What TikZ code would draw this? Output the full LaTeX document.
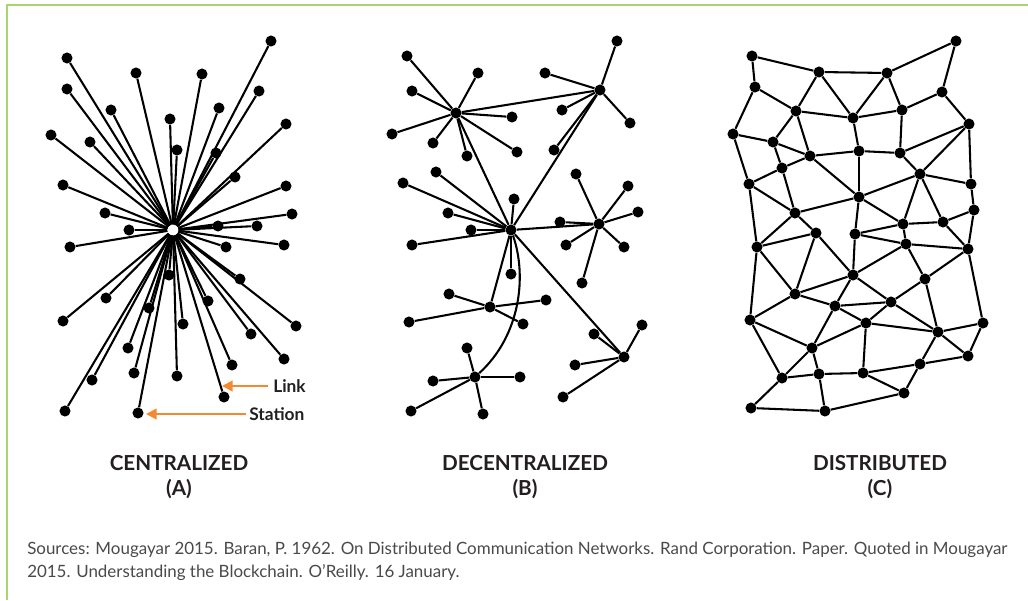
\documentclass[tikz,border=0pt]{standalone}
\usepackage{fontspec}
\setmainfont{Lato}
\usetikzlibrary{arrows.meta}
\definecolor{framegreen}{HTML}{A8D572}
\definecolor{arrorange}{HTML}{F5892F}
\definecolor{txtdark}{HTML}{231F20}
\definecolor{srcgray}{HTML}{4A4A4A}
\begin{document}
\begin{tikzpicture}[x=0.75pt,y=-0.75pt,
  stn/.style={circle,fill=black,inner sep=0pt,minimum size=8.3pt},
  wire/.style={line width=1.55pt,black},
  hubgap/.style={circle,inner sep=0pt,minimum size=8pt},
  title/.style={font=\bfseries\fontsize{15.5}{18}\selectfont,text=txtdark},
  lbl/.style={font=\bfseries\fontsize{13}{15}\selectfont,text=txtdark,anchor=west,inner sep=0pt},
  pointer/.style={line width=1.7pt,arrorange,-{Triangle[length=8pt,width=8pt]}},
  src/.style={font=\fontsize{12.7}{17.3}\selectfont,text=srcgray,anchor=north west,inner sep=0pt,align=left}]
\useasboundingbox (0,0) rectangle (1028,600);
\fill[white] (0,0) rectangle (1028,600);
% frame
\draw[framegreen,line width=1.6pt] (7,600) -- (7,5) -- (1028,5);

% ---------------- (A) centralized ----------------
\node[hubgap] (ac) at (173,230) {};
\foreach \n/\x/\y in {
 a1/271/41, a2/67/58, a3/136/73, a4/202/74, a5/259/91, a6/67/89, a7/111/110,
 a8/219/108, a9/170/119, a10/286/124, a11/51/135, a12/90/142, a13/177/150,
 a14/216/153, a15/235/177, a16/63/185, a17/286/186, a18/105/213, a19/292/214,
 a20/129/230, a21/218/226, a22/257/226, a23/70/247, a24/226/247, a25/284/245,
 a26/169/275, a27/240/279, a28/106/298, a29/208/301, a30/149/308, a31/63/321,
 a32/183/324, a33/296/326, a34/251/334, a35/128/348, a36/284/359, a37/232/365,
 a38/134/373, a39/177/376, a40/92/380, a41/224/397, a42/65/411, a43/138/413}
 \node[stn] (\n) at (\x,\y) {};
\foreach \i in {1,...,43} \draw[wire] (ac) -- (a\i);

% pointers
\node[lbl] (lnk) at (273,386) {Link};
\coordinate (lnktip) at (222,386);
\path (lnk.west) ++(-5,0) coordinate (lnkstart);
\draw[pointer] (lnkstart) -- (lnktip);
\node[lbl] (sta) at (249,414) {Station};
\coordinate (statip) at (146,414);
\path (sta.west) ++(-3,0) coordinate (stastart);
\draw[pointer] (stastart) -- (statip);

% ---------------- (B) decentralized ----------------
\foreach \n/\x/\y in {b1/456/113, b2/600/90, b3/511/230, b4/599/224,
 b5/490/307, b6/624/357, b7/475/377}
 \node[stn] (\n) at (\x,\y) {};
% leaves: hub/name/x/y
\foreach \h/\n/\x/\y in {
 b1/p1/407/56, b1/p2/478/73, b1/p3/412/91, b1/p4/512/117, b1/p5/392/134,
 b1/p6/433/143, b1/p7/467/156, b1/p8/517/152,
 b2/q1/617/41, b2/q2/545/73, b2/q3/562/110, b2/q4/630/123, b2/q5/554/150,
 b3/r1/403/183, b3/r2/436/172, b3/r3/514/199, b3/r4/448/213, b3/r5/471/230,
 b3/r6/412/245, b3/r7/511/274,
 b4/s1/560/222, b4/s2/576/174, b4/s3/628/186, b4/s4/638/212, b4/s5/566/245,
 b4/s6/624/247, b4/s7/582/283,
 b5/t1/449/294, b5/t2/546/300, b5/t3/409/322, b5/t4/523/324,
 b6/u1/594/334, b6/u2/642/325, b6/u3/575/365, b6/u4/563/397,
 b7/v1/467/348, b7/v2/433/381, b7/v3/520/377, b7/v4/411/411, b7/v5/483/414}
 {\node[stn] (\n) at (\x,\y) {};
  \draw[wire] (\h) -- (\n);}
\foreach \a/\b in {b1/b2, b1/b3, b2/b3, b3/b4, b3/b5, b3/b6}
 \draw[wire] (\a) -- (\b);
\draw[wire] (b3) .. controls (527,275) and (521,335) .. (b7);

% ---------------- (C) distributed ----------------
\foreach \n/\x/\y in {
 c1/956/41, c2/752/56, c3/819/72, c4/887/73, c5/942/92, c6/755/87, c7/796/111,
 c8/853/118, c9/902/110, c10/969/124, c11/733/134, c12/773/142, c13/810/156,
 c14/859/151, c15/900/153, c16/782/168, c17/749/184, c18/920/174, c19/971/184,
 c20/859/197, c21/974/210, c22/795/213, c23/903/224, c24/943/222, c25/816/233,
 c26/855/234, c27/906/244, c28/757/247, c29/968/249, c30/853/275, c31/925/279,
 c32/795/294, c33/835/306, c34/891/302, c35/750/320, c36/866/323, c37/938/332,
 c38/983/323, c39/812/348, c40/968/356, c41/920/364, c42/782/378, c43/819/374,
 c44/863/373, c45/904/393, c46/751/408, c47/825/411}
 \node[stn] (\n) at (\x,\y) {};
\foreach \a/\b in {
 c2/c3, c3/c4, c4/c1, c1/c5, c2/c6, c6/c7, c6/c11, c3/c7, c3/c8, c4/c8, c4/c9,
 c7/c8, c8/c9, c9/c5, c5/c10, c9/c15, c8/c14, c7/c12, c7/c13, c11/c12, c12/c13,
 c12/c16, c13/c14, c14/c15, c15/c10, c10/c19, c10/c18, c11/c17, c13/c16,
 c16/c17, c13/c20, c14/c20, c15/c18, c18/c19, c18/c20, c16/c22, c17/c22,
 c17/c28, c20/c22, c20/c23, c20/c26, c18/c23, c18/c24, c19/c21, c21/c24,
 c21/c29, c24/c29, c23/c24, c23/c26, c23/c27, c26/c27, c27/c29, c22/c25,
 c22/c28, c25/c28, c25/c30, c26/c30, c27/c30, c27/c31, c29/c31, c29/c38,
 c28/c32, c25/c32, c32/c30, c33/c30, c34/c30, c34/c31, c31/c37, c32/c33,
 c32/c35, c33/c34, c33/c36, c33/c39, c34/c36, c34/c37, c35/c39, c35/c42,
 c28/c35, c36/c37, c36/c39, c36/c44, c37/c38, c37/c40, c37/c41, c38/c40,
 c39/c42, c39/c43, c40/c41, c41/c44, c41/c45, c42/c43, c43/c44, c44/c45,
 c42/c46, c43/c47, c46/c47, c47/c45}
 \draw[wire] (\a) -- (\b);

% ---------------- titles ----------------
\node[title] (tA) at (179,463) {CENTRALIZED};
\node[title] (tA2) at (179,489) {(A)};
\node[title] (tB) at (525,463) {DECENTRALIZED};
\node[title] (tB2) at (525,489) {(B)};
\node[title] (tC) at (880,463) {DISTRIBUTED};
\node[title] (tC2) at (880,489) {(C)};

\node[src] (srcnote) at (27,542) {Sources: Mougayar 2015. Baran, P. 1962. On Distributed Communication Networks. Rand Corporation. Paper. Quoted in Mougayar\\2015. Understanding the Blockchain. O’Reilly. 16 January.};
\end{tikzpicture}
\end{document}
